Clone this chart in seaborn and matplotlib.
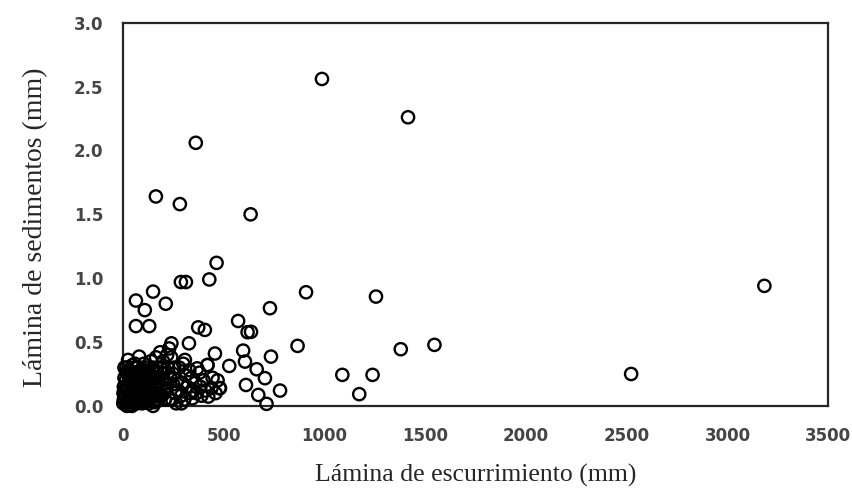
import numpy as np
import pandas as pd
import seaborn as sns
import matplotlib.pyplot as plt

# Lámina de escurrimiento (mm) vs Lámina de sedimentos (mm)
escurrimiento = [
    988, 1415, 362, 164, 283, 634, 465, 288, 313, 429, 150, 65, 109, 213,
    909, 65, 131, 374, 407, 572, 619, 730, 867, 735, 328, 241, 1256, 1379,
    1546, 3183, 2522, 1089, 1239, 1173, 457, 597, 606, 528, 308, 664, 705,
    611, 672, 713, 780, 420, 369, 291, 424, 482, 333, 636,
    26, 81, 55, 30, 15, 40, 10, 25, 5, 15, 35, 50, 60, 70, 45, 90, 100, 110,
    80, 95, 120, 130, 140, 150, 160, 130, 170, 180, 190, 200, 210, 220, 230,
    240, 250, 195, 215, 230, 250, 260, 270, 280, 300, 310, 320, 340, 350,
    360, 380, 390, 400, 420, 440, 460, 470, 480, 60, 20, 75, 105, 145, 165,
    185, 115, 85, 55, 35, 8, 140, 175, 205, 225, 245, 265, 290,
    12, 18, 22, 28, 32, 38, 42, 48, 52, 58, 62, 68, 72, 78, 88, 92, 98, 102,
    108, 118, 125, 135, 138, 148, 155, 162, 168, 178, 188, 198, 208, 218,
    235, 255, 275, 295, 305, 330, 345, 365, 385, 410, 445, 2, 5, 8, 3, 20,
    45, 70, 150,
    14, 24, 34, 44, 54, 64, 74, 84, 94, 104, 114, 124, 134, 144, 154, 164,
    174, 184, 194, 204, 17, 37, 57, 77, 97, 117, 137, 157,
]
sedimentos = [
    2.56, 2.26, 2.06, 1.64, 1.58, 1.50, 1.12, 0.97, 0.97, 0.99, 0.895, 0.825,
    0.75, 0.80, 0.89, 0.625, 0.625, 0.615, 0.595, 0.665, 0.577, 0.765, 0.47,
    0.386, 0.49, 0.49, 0.856, 0.444, 0.478, 0.94, 0.25, 0.243, 0.243, 0.092,
    0.41, 0.433, 0.347, 0.313, 0.36, 0.287, 0.217, 0.164, 0.086, 0.016, 0.12,
    0.32, 0.294, 0.02, 0.073, 0.138, 0.10, 0.58,
    0.36, 0.386, 0.30, 0.25, 0.20, 0.18, 0.12, 0.08, 0.05, 0.02, 0.01, 0.04,
    0.10, 0.15, 0.22, 0.28, 0.20, 0.12, 0.06, 0.02, 0.30, 0.25, 0.18, 0.10,
    0.05, 0.02, 0.30, 0.22, 0.15, 0.35, 0.28, 0.40, 0.45, 0.38, 0.25, 0.08,
    0.12, 0.05, 0.17, 0.10, 0.20, 0.30, 0.33, 0.24, 0.15, 0.22, 0.12, 0.18,
    0.26, 0.08, 0.20, 0.32, 0.14, 0.10, 0.20, 0.14, 0.33, 0.15, 0.22, 0.33,
    0.28, 0.38, 0.42, 0.05, 0.14, 0.12, 0.04, 0.30, 0.35, 0.10, 0.20, 0.30,
    0.05, 0.02, 0.08,
    0.08, 0.30, 0.12, 0.05, 0.18, 0.27, 0.10, 0.32, 0.20, 0.06, 0.25, 0.02,
    0.30, 0.12, 0.22, 0.08, 0.15, 0.26, 0.03, 0.18, 0.10, 0.06, 0.22, 0.30,
    0.16, 0.25, 0.08, 0.18, 0.30, 0.25, 0.05, 0.18, 0.22, 0.30, 0.12, 0.18,
    0.05, 0.28, 0.06, 0.10, 0.15, 0.12, 0.22, 0.02, 0.15, 0.22, 0.10, 0.00,
    0.00, 0.08, 0.00,
    0.14, 0.03, 0.24, 0.15, 0.08, 0.19, 0.04, 0.17, 0.11, 0.07, 0.22, 0.14,
    0.04, 0.12, 0.21, 0.13, 0.04, 0.09, 0.21, 0.12, 0.26, 0.21, 0.16, 0.27,
    0.04, 0.26, 0.13, 0.03,
]
x_ticks = [0, 500, 1000, 1500, 2000, 2500, 3000, 3500]
y_ticks = [0.0, 0.5, 1.0, 1.5, 2.0, 2.5, 3.0]

df = pd.DataFrame({'esc': escurrimiento, 'sed': sedimentos})

sns.set_style('white')
fig = plt.figure(figsize=(8.53, 4.95), dpi=100)
ax = fig.add_axes([0.144, 0.180, 0.827, 0.774])

sns.scatterplot(data=df, x='esc', y='sed', ax=ax, marker='o', s=78,
                facecolor='none', edgecolor='black', linewidth=1.7,
                clip_on=False, zorder=3)

ax.set_xlim(0, 3500)
ax.set_ylim(0, 3.0)
ax.set_xticks(x_ticks)
ax.set_yticks(y_ticks)
ax.set_xticklabels([str(t) for t in x_ticks])
ax.set_yticklabels([f'{t:.1f}' for t in y_ticks])
ax.tick_params(axis='x', length=0, pad=15, labelcolor='#454545')
ax.tick_params(axis='y', length=0, pad=14, labelcolor='#454545')
for lab in ax.get_xticklabels() + ax.get_yticklabels():
    lab.set_fontfamily('DejaVu Sans')
    lab.set_fontweight('bold')
    lab.set_fontsize(12)

for sp in ax.spines.values():
    sp.set_visible(True)
    sp.set_color('#262626')
    sp.set_linewidth(1.6)

ax.set_xlabel('Lámina de escurrimiento (mm)', fontfamily='Liberation Serif',
              fontsize=18.5, labelpad=14)
ax.set_ylabel('Lámina de sedimentos (mm)', fontfamily='Liberation Serif',
              fontsize=20)
ax.yaxis.set_label_coords(-0.106, 0.467)

fig.savefig('out.png', dpi=100)
